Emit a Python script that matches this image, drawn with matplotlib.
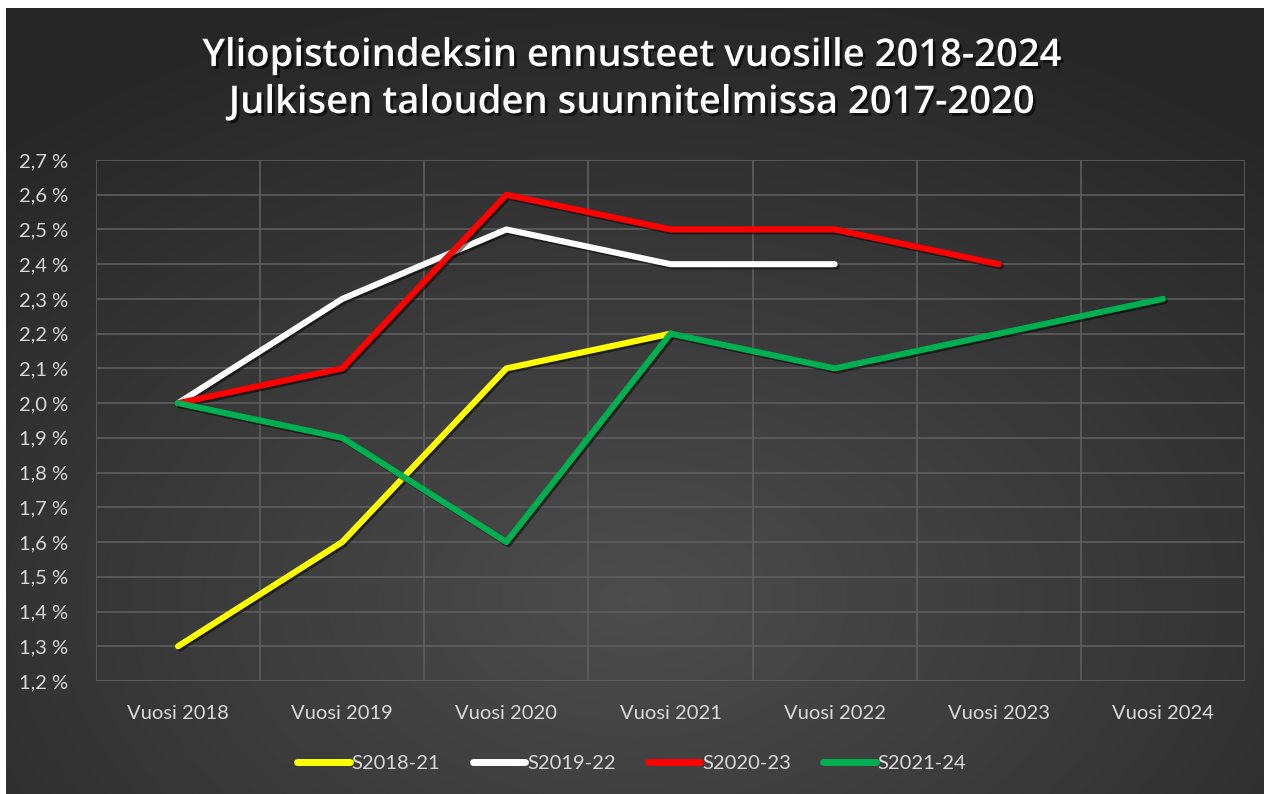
import numpy as np
import matplotlib.pyplot as plt
import matplotlib.patheffects as pe
from matplotlib.ticker import FixedLocator, FuncFormatter

plt.rcParams['font.family'] = ['Lato', 'DejaVu Sans']

years = ["Vuosi 2018", "Vuosi 2019", "Vuosi 2020", "Vuosi 2021",
         "Vuosi 2022", "Vuosi 2023", "Vuosi 2024"]
s2018_21 = [1.3, 1.6, 2.1, 2.2]
s2019_22 = [2.0, 2.3, 2.5, 2.4, 2.4]
s2020_23 = [2.0, 2.1, 2.6, 2.5, 2.5, 2.4]
s2021_24 = [2.0, 1.9, 1.6, 2.2, 2.1, 2.2, 2.3]
series_names = ["S2018-21", "S2019-22", "S2020-23", "S2021-24"]
series_colors = ["#ffff00", "#ffffff", "#ff0000", "#00b050"]
title_lines = ["Yliopistoindeksin ennusteet vuosille 2018-2024",
               "Julkisen talouden suunnitelmissa 2017-2020"]

W, H = 1264, 794
fig = plt.figure(figsize=(W / 100, H / 100), dpi=100)
fig.patch.set_facecolor("white")

# radial gradient background (dark chart area with white margin top/left)
bg = fig.add_axes([6 / W, 0, 1 - 6 / W, 1 - 8 / H])
yy, xx = np.mgrid[0:200, 0:320]
cx, cy = 160, 150
r = np.sqrt(((xx - cx) / 320) ** 2 + ((yy - cy) / 200) ** 2 * 0.9)
r = np.clip(r / 0.75, 0, 1)
grey = 0.30 - 0.15 * r
bg.imshow(np.dstack([grey, grey, grey]), aspect="auto", origin="upper",
          extent=[0, 1, 0, 1], interpolation="bicubic")
bg.set_axis_off()

ax = fig.add_axes([96 / W, 1 - 681 / H, (1245 - 96) / W, (681 - 160) / H])
ax.patch.set_alpha(0)

shadow = [pe.SimpleLineShadow(offset=(1.5, -1.5), shadow_color="black", alpha=0.5),
          pe.Normal()]
all_series = [s2018_21, s2019_22, s2020_23, s2021_24]
for name, vals, col in zip(series_names, all_series, series_colors):
    ax.plot(np.arange(len(vals)), vals, color=col, lw=4.4, label=name,
            solid_capstyle="round", solid_joinstyle="round", path_effects=shadow)

ax.set_xlim(-0.5, len(years) - 0.5)
ax.set_ylim(1.2, 2.7)
ax.set_xticks(np.arange(len(years)))
ax.set_xticklabels(years)
ax.xaxis.set_minor_locator(FixedLocator(np.arange(len(years) + 1) - 0.5))
ax.set_yticks(np.round(np.arange(1.2, 2.71, 0.1), 1))
ax.yaxis.set_major_formatter(FuncFormatter(lambda v, p: f"{v:.1f} %".replace(".", ",")))

grid_col = "#5e5e5e"
ax.grid(axis="y", which="major", color=grid_col, lw=1.2)
ax.grid(axis="x", which="minor", color=grid_col, lw=1.2)
ax.set_axisbelow(True)
for s in ax.spines.values():
    s.set_visible(False)
ax.tick_params(which="both", length=0)
ax.tick_params(axis="y", pad=20, labelsize=14.5, labelcolor="#d9d9d9")
ax.tick_params(axis="x", pad=17, labelsize=14.5, labelcolor="#d9d9d9")
ax.axhline(1.2, color=grid_col, lw=1.2, zorder=0)

title_fx = [pe.withSimplePatchShadow(offset=(2, -2), shadow_rgbFace="black", alpha=0.6)]
for line, ypix in zip(title_lines, [56, 103]):
    fig.text(0.5, 1 - ypix / H, line, ha="center", va="center", color="white",
             fontsize=27.5, fontweight="semibold", family=["Open Sans", "DejaVu Sans"],
             path_effects=title_fx)

leg = fig.legend(loc="center", bbox_to_anchor=(0.5, 1 - 763 / H), ncol=4,
                 frameon=False, fontsize=14.5, labelcolor="#d9d9d9",
                 handlelength=2.6, handletextpad=0.1, columnspacing=1.6)
for h in leg.get_lines():
    h.set_path_effects([])
    h.set_solid_capstyle("round")
    h.set_linewidth(5)

fig.savefig("out.png", dpi=100, facecolor=fig.get_facecolor())
